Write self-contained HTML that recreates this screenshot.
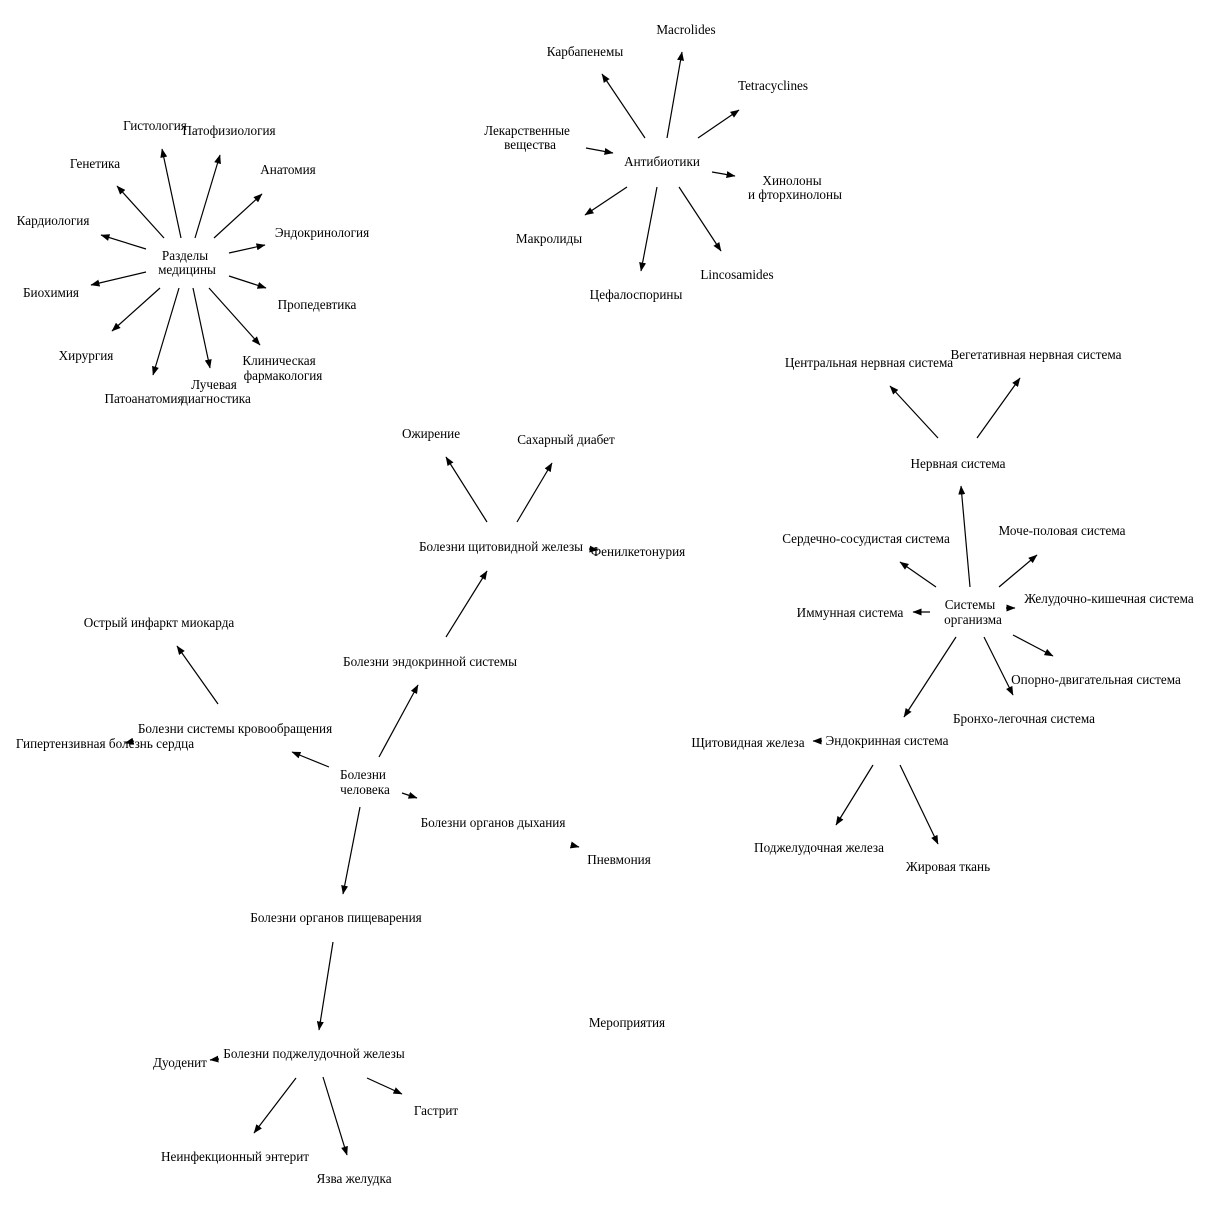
<!DOCTYPE html>
<html><head><meta charset="utf-8"><style>
html,body{margin:0;padding:0;background:#fff;}
svg text{font-family:"Liberation Serif","DejaVu Serif",serif;font-size:13.2px;fill:#000;text-anchor:middle;}
</style></head><body>
<svg width="1212" height="1208" xmlns="http://www.w3.org/2000/svg">
<defs><marker id="a" markerWidth="9" markerHeight="7" refX="8.5" refY="3.5" orient="auto" markerUnits="userSpaceOnUse"><path d="M0,0 L9,3.5 L0,7 z" fill="#000"/></marker></defs>
<g stroke="#000" stroke-width="1.2" marker-end="url(#a)">
<line x1="181" y1="238" x2="162" y2="149"/>
<line x1="195" y1="238" x2="220" y2="155"/>
<line x1="214" y1="238" x2="262" y2="194"/>
<line x1="229" y1="253" x2="265" y2="245"/>
<line x1="229" y1="276" x2="266" y2="288"/>
<line x1="209" y1="288" x2="260" y2="345"/>
<line x1="193" y1="288" x2="210" y2="368"/>
<line x1="179" y1="288" x2="153" y2="375"/>
<line x1="160" y1="288" x2="112" y2="331"/>
<line x1="146" y1="272" x2="91" y2="285"/>
<line x1="146" y1="249" x2="101" y2="235"/>
<line x1="164" y1="238" x2="117" y2="186"/>
<line x1="645" y1="138" x2="602" y2="74"/>
<line x1="667" y1="138" x2="682" y2="52"/>
<line x1="698" y1="138" x2="739" y2="110"/>
<line x1="712" y1="172" x2="735" y2="176"/>
<line x1="679" y1="187" x2="721" y2="251"/>
<line x1="657" y1="187" x2="641" y2="271"/>
<line x1="627" y1="187" x2="585" y2="215"/>
<line x1="586" y1="148" x2="613" y2="153"/>
<line x1="938" y1="438" x2="890" y2="386"/>
<line x1="977" y1="438" x2="1020" y2="378"/>
<line x1="970" y1="587" x2="961" y2="486"/>
<line x1="936" y1="587" x2="900" y2="562"/>
<line x1="999" y1="587" x2="1037" y2="555"/>
<line x1="1006" y1="608" x2="1015" y2="608"/>
<line x1="930" y1="612" x2="913" y2="612"/>
<line x1="1013" y1="635" x2="1053" y2="656"/>
<line x1="984" y1="637" x2="1013" y2="695"/>
<line x1="956" y1="637" x2="904" y2="717"/>
<line x1="822" y1="741" x2="813" y2="741"/>
<line x1="873" y1="765" x2="836" y2="825"/>
<line x1="900" y1="765" x2="938" y2="844"/>
<line x1="379" y1="757" x2="418" y2="685"/>
<line x1="446" y1="637" x2="487" y2="571"/>
<line x1="487" y1="522" x2="446" y2="457"/>
<line x1="517" y1="522" x2="552" y2="463"/>
<line x1="589" y1="549" x2="598" y2="550"/>
<line x1="329" y1="767" x2="292" y2="752"/>
<line x1="218" y1="704" x2="177" y2="646"/>
<line x1="134" y1="741" x2="125" y2="743"/>
<line x1="402" y1="793" x2="417" y2="798"/>
<line x1="571" y1="845" x2="579" y2="847"/>
<line x1="360" y1="807" x2="343" y2="894"/>
<line x1="333" y1="942" x2="319" y2="1030"/>
<line x1="219" y1="1059" x2="210" y2="1060"/>
<line x1="367" y1="1078" x2="402" y2="1094"/>
<line x1="296" y1="1078" x2="254" y2="1133"/>
<line x1="323" y1="1077" x2="347" y2="1155"/>
</g>
<g transform="translate(0,1)">
<text x="185" y="259">Разделы</text><text x="187" y="273">медицины</text>
<text x="155" y="129">Гистология</text>
<text x="229" y="134">Патофизиология</text>
<text x="95" y="167">Генетика</text>
<text x="288" y="173">Анатомия</text>
<text x="53" y="224">Кардиология</text>
<text x="322" y="236">Эндокринология</text>
<text x="51" y="296">Биохимия</text>
<text x="317" y="308">Пропедевтика</text>
<text x="86" y="359">Хирургия</text>
<text x="279" y="364">Клиническая</text><text x="283" y="379">фармакология</text>
<text x="214" y="388">Лучевая</text><text x="216" y="402">диагностика</text>
<text x="144" y="402">Патоанатомия</text>
<text x="662" y="165">Антибиотики</text>
<text x="585" y="55">Карбапенемы</text>
<text x="686" y="33">Macrolides</text>
<text x="773" y="89">Tetracyclines</text>
<text x="792" y="184">Хинолоны</text><text x="795" y="198">и фторхинолоны</text>
<text x="737" y="278">Lincosamides</text>
<text x="636" y="298">Цефалоспорины</text>
<text x="549" y="242">Макролиды</text>
<text x="527" y="134">Лекарственные</text><text x="530" y="148">вещества</text>
<text x="958" y="467">Нервная система</text>
<text x="869" y="366">Центральная нервная система</text>
<text x="1036" y="358">Вегетативная нервная система</text>
<text x="970" y="608">Системы</text><text x="973" y="623">организма</text>
<text x="866" y="542">Сердечно-сосудистая система</text>
<text x="1062" y="534">Моче-половая система</text>
<text x="1109" y="602">Желудочно-кишечная система</text>
<text x="850" y="616">Иммунная система</text>
<text x="1096" y="683">Опорно-двигательная система</text>
<text x="1024" y="722">Бронхо-легочная система</text>
<text x="887" y="744">Эндокринная система</text>
<text x="748" y="746">Щитовидная железа</text>
<text x="819" y="851">Поджелудочная железа</text>
<text x="948" y="870">Жировая ткань</text>
<text x="363" y="778">Болезни</text><text x="365" y="793">человека</text>
<text x="430" y="665">Болезни эндокринной системы</text>
<text x="501" y="550">Болезни щитовидной железы</text>
<text x="431" y="437">Ожирение</text>
<text x="566" y="443">Сахарный диабет</text>
<text x="638" y="555">Фенилкетонурия</text>
<text x="235" y="732">Болезни системы кровообращения</text>
<text x="159" y="626">Острый инфаркт миокарда</text>
<text x="105" y="747">Гипертензивная болезнь сердца</text>
<text x="493" y="826">Болезни органов дыхания</text>
<text x="619" y="863">Пневмония</text>
<text x="336" y="921">Болезни органов пищеварения</text>
<text x="314" y="1057">Болезни поджелудочной железы</text>
<text x="180" y="1066">Дуоденит</text>
<text x="436" y="1114">Гастрит</text>
<text x="235" y="1160">Неинфекционный энтерит</text>
<text x="354" y="1182">Язва желудка</text>
<text x="627" y="1026">Мероприятия</text>
</g>
</svg>
</body></html>
